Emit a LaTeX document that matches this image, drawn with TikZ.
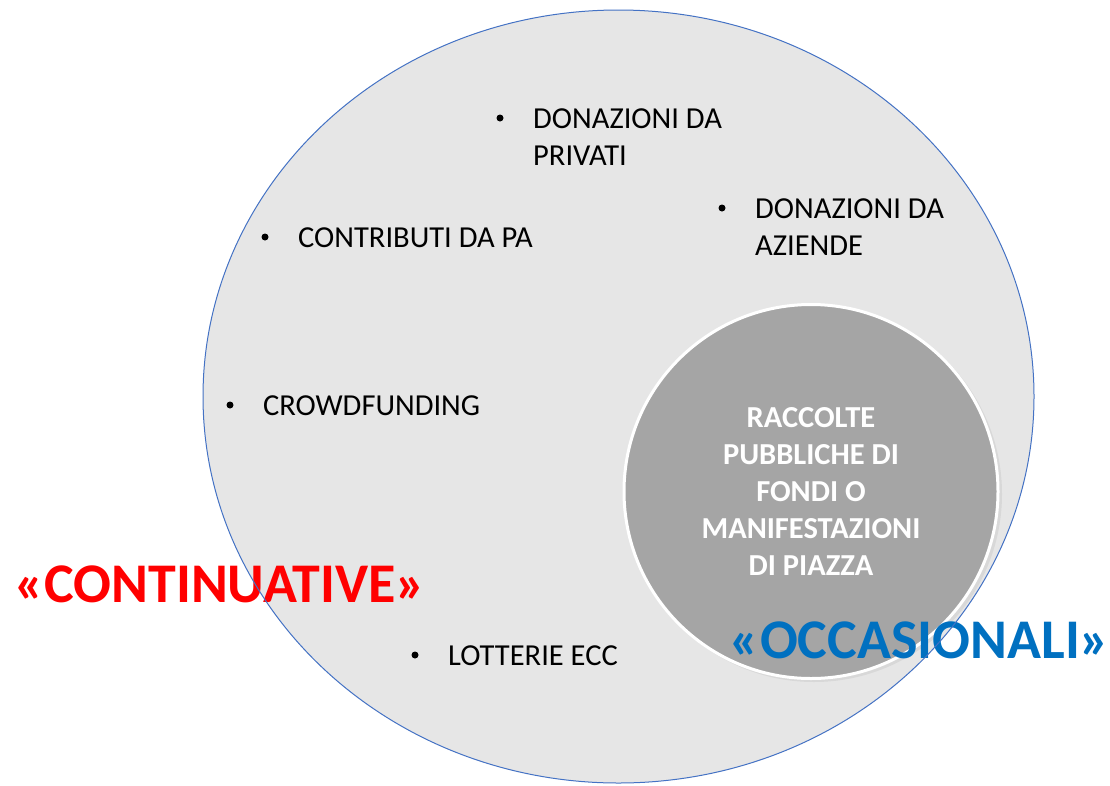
\documentclass[tikz,border=0pt]{standalone}
\usepackage{fontspec}
\setmainfont{Carlito}
\usepackage{tikz}

\definecolor{sfondo}{HTML}{E6E6E6}
\definecolor{bordo}{HTML}{4472C4}
\definecolor{cerchio}{HTML}{A5A5A5}
\definecolor{rosso}{HTML}{FF0000}
\definecolor{blu}{HTML}{0070C0}

\tikzset{
  punto/.style={circle,fill=black,inner sep=0pt,minimum size=7pt},
  voce/.style={anchor=north west,inner sep=0pt,align=left,
    font=\fontsize{30.5}{37}\selectfont},
  etichetta/.style={inner sep=0pt,font=\fontsize{56}{60}\selectfont\bfseries}
}

\begin{document}
\begin{tikzpicture}[x=1pt,y=-1pt]
\pgfmathsetmacro\cx{618.5}
\pgfmathsetmacro\cy{396.5}
\pgfmathsetmacro\rx{415.5}
\pgfmathsetmacro\ry{386.5}
\useasboundingbox (0,0) rectangle (1110,785);

\fill[sfondo] (\cx,\cy) ellipse [x radius=\rx, y radius=\ry];

% shadow of the small circle
\fill[black,opacity=0.06] (814,494) circle [radius=188];
\node[circle,fill=cerchio,draw=white,line width=3pt,minimum size=374pt,
  inner sep=0pt,align=center,text=white,
  font=\fontsize{30.5}{37}\selectfont\bfseries] (raccolte) at (811,491.5)
  {RACCOLTE\\PUBBLICHE DI\\FONDI O\\MANIFESTAZIONI\\DI PIAZZA};

\foreach \nome/\bx/\by/\testo in {privati/500/118/{DONAZIONI DA\\PRIVATI},
  pa/265/237/{CONTRIBUTI DA PA},
  aziende/722/208/{DONAZIONI DA\\AZIENDE},
  crowd/230/405/{CROWDFUNDING},
  lotterie/415/655/{LOTTERIE ECC}} {
  \node[punto] (p\nome) at (\bx,\by) {};
  \node[voce] (t\nome) at (\bx+33,\by-9.8) {\testo};
}

\node[etichetta,text=rosso,anchor=west] (continuative) at (14,584.5)
  {«CONTINUATIVE»};
\node[etichetta,text=blu] (occasionali) at (920,640) {«OCCASIONALI»};

\draw[bordo,line width=1pt] (\cx,\cy) ellipse [x radius=\rx, y radius=\ry];
\end{tikzpicture}
\end{document}
